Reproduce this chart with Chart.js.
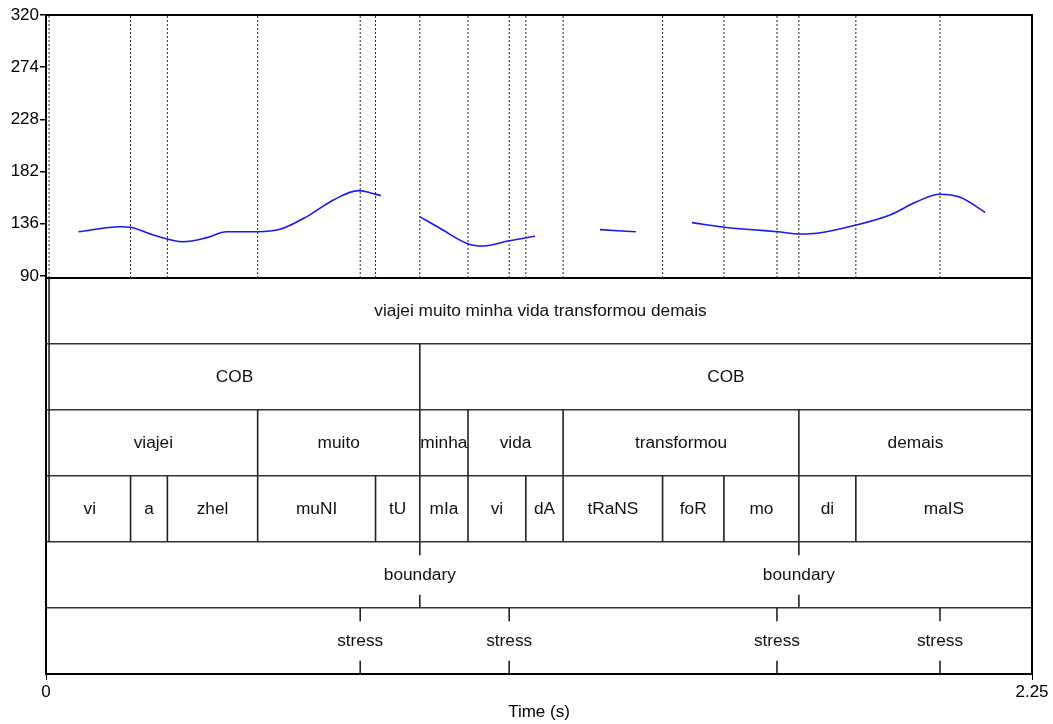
<!DOCTYPE html>
<html>
<head>
<meta charset="utf-8">
<script src="https://cdn.jsdelivr.net/npm/chart.js@4"></script>
<style>
  body { margin: 0; background: #fff; }
  #wrap { width: 1053px; height: 724px; }
</style>
</head>
<body>
<div id="wrap"><canvas id="pitchChart"></canvas></div>
<script>
// --- data ---
const xMax = 2.25;
const pitchTicks = [90, 136, 182, 228, 274, 320];

// pitch contour (s, Hz); null = unvoiced gap
const pitchTimes = [0.074, 0.169, 0.193, 0.245, 0.313, 0.367, 0.412, 0.482, 0.534, 0.595, 0.656, 0.713, 0.739, 0.764, 0.80,
  0.853, 0.899, 0.964, 0.998, 1.057, 1.116, 1.19,
  1.264, 1.346, 1.40,
  1.474, 1.548, 1.622, 1.669, 1.721, 1.759, 1.848, 1.926, 1.987, 2.040, 2.086, 2.143];
const pitchHz = [129.0, 133.4, 132.9, 126.1, 120.2, 123.8, 129.0, 129.0, 131.1, 142.3, 157.0, 165.2, 163.4, 160.8, null,
  142.3, 132.0, 118.2, 116.4, 121.1, 125.0, null,
  130.8, 129.0, null,
  137.0, 132.9, 130.5, 129.0, 127.0, 127.6, 134.9, 143.8, 155.5, 162.0, 159.3, 146.1];

// interval tiers: boundaries + labels
const sentenceBounds = [0.007, 2.25];
const sentenceLabels = ['viajei muito minha vida transformou demais'];
const unitBounds = [0.007, 0.853, 2.25];
const unitLabels = ['COB', 'COB'];
const wordBounds = [0.007, 0.483, 0.853, 0.963, 1.180, 1.718, 2.25];
const wordLabels = ['viajei', 'muito', 'minha', 'vida', 'transformou', 'demais'];
const syllBounds = [0.007, 0.193, 0.277, 0.483, 0.752, 0.853, 0.963, 1.095, 1.180, 1.407, 1.547, 1.718, 1.848, 2.25];
const syllLabels = ['vi', 'a', 'zhel', 'muNI', 'tU', 'mIa', 'vi', 'dA', 'tRaNS', 'foR', 'mo', 'di', 'maIS'];

// point tiers
const boundaryPoints = [0.853, 1.718];
const stressPoints = [0.717, 1.057, 1.668, 2.040];

const intervalTiers = [
  { bounds: sentenceBounds, labels: sentenceLabels },
  { bounds: unitBounds, labels: unitLabels },
  { bounds: wordBounds, labels: wordLabels },
  { bounds: syllBounds, labels: syllLabels }
];
const pointTiers = [
  { points: boundaryPoints, label: 'boundary' },
  { points: stressPoints, label: 'stress' }
];

const FONT = "'Liberation Sans', Arial, sans-serif";

// --- build datasets ---
const datasets = [];

datasets.push({
  label: 'F0',
  data: pitchTimes.map((t, i) => ({ x: t, y: pitchHz[i] })),
  yAxisID: 'y',
  borderColor: 'rgb(25,25,235)',
  borderWidth: 1.6,
  pointRadius: 0,
  cubicInterpolationMode: 'monotone',
  spanGaps: false
});

// dotted boundary lines in the pitch panel
const allTimes = new Set();
intervalTiers.forEach(tr => tr.bounds.forEach(b => { if (b < xMax) allTimes.add(b); }));
pointTiers.forEach(tr => tr.points.forEach(p => allTimes.add(p)));
const dotted = [];
[...allTimes].sort((a, b) => a - b).forEach(t => {
  dotted.push({ x: t, y: 88.2 }, { x: t, y: 320 }, { x: t, y: null });
});
datasets.push({
  label: 'marks',
  data: dotted,
  yAxisID: 'y',
  borderColor: '#222',
  borderWidth: 1,
  borderDash: [2, 2],
  pointRadius: 0,
  spanGaps: false
});

// interval tier boundaries
intervalTiers.forEach((tr, row) => {
  const d = [];
  tr.bounds.forEach(b => { d.push({ x: b, y: row }, { x: b, y: row + 1 }, { x: b, y: null }); });
  datasets.push({ label: 'tier' + row, data: d, yAxisID: 'yt', borderColor: '#222', borderWidth: 1.6, pointRadius: 0, spanGaps: false });
});

// point tier tick marks
pointTiers.forEach((tr, k) => {
  const row = 4 + k;
  const d = [];
  tr.points.forEach(p => {
    d.push({ x: p, y: row }, { x: p, y: row + 0.2 }, { x: p, y: null });
    d.push({ x: p, y: row + 0.8 }, { x: p, y: row + 1 }, { x: p, y: null });
  });
  datasets.push({ label: 'points' + k, data: d, yAxisID: 'yt', borderColor: '#222', borderWidth: 1.6, pointRadius: 0, spanGaps: false });
});

// labels inside tiers + outer frame
const tierText = {
  id: 'tierText',
  afterDatasetsDraw(chart) {
    const { ctx, scales: { x, yt } } = chart;
    ctx.save();
    ctx.fillStyle = '#111';
    ctx.font = '17.3px ' + FONT;
    ctx.textAlign = 'center';
    ctx.textBaseline = 'middle';
    intervalTiers.forEach((tr, row) => {
      const yc = yt.getPixelForValue(row + 0.5);
      tr.labels.forEach((lab, i) => {
        const xc = (x.getPixelForValue(tr.bounds[i]) + x.getPixelForValue(tr.bounds[i + 1])) / 2;
        ctx.fillText(lab, xc, yc);
      });
    });
    pointTiers.forEach((tr, k) => {
      const yc = yt.getPixelForValue(4 + k + 0.5);
      tr.points.forEach(p => ctx.fillText(tr.label, x.getPixelForValue(p), yc));
    });
    ctx.restore();
  },
  afterDraw(chart) {
    const a = chart.chartArea;
    const ctx = chart.ctx;
    ctx.save();
    ctx.strokeStyle = '#000';
    ctx.lineWidth = 2;
    ctx.strokeRect(a.left, a.top, a.right - a.left, a.bottom - a.top);
    ctx.beginPath();
    const y0 = chart.scales.yt.getPixelForValue(0);
    ctx.moveTo(a.left, y0);
    ctx.lineTo(a.right, y0);
    ctx.stroke();
    ctx.restore();
  }
};

let chart;

function initChart() {
  const ctx = document.getElementById('pitchChart').getContext('2d');
  chart = new Chart(ctx, {
    type: 'line',
    data: { datasets },
    options: {
      responsive: true,
      maintainAspectRatio: false,
      animation: false,
      events: [],
      layout: { padding: { top: 15, right: 21, left: 0, bottom: 0 } },
      plugins: {
        legend: { display: false },
        tooltip: { enabled: false }
      },
      scales: {
        x: {
          type: 'linear',
          min: 0,
          max: xMax,
          position: 'bottom',
          afterBuildTicks: s => { s.ticks = [{ value: 0 }, { value: xMax }]; },
          ticks: {
            callback: v => (v === 0 ? '0' : v.toFixed(2)),
            maxRotation: 0,
            autoSkip: false,
            color: '#000',
            padding: 2,
            font: { family: FONT, size: 17 }
          },
          grid: { drawOnChartArea: false, drawTicks: true, tickLength: 6, color: '#000', lineWidth: 1 },
          border: { color: '#000', width: 2 },
          title: { display: true, text: 'Time (s)', color: '#000', font: { family: FONT, size: 17 }, padding: { top: 3, bottom: 1 } },
          afterFit: s => { s.height = 50; }
        },
        // tiers first so they sit under the pitch panel in the stack
        yt: {
          type: 'linear',
          min: 0,
          max: 6,
          reverse: true,
          position: 'left',
          stack: 'v',
          stackWeight: 396,
          ticks: { display: false, stepSize: 1 },
          grid: { drawTicks: false, color: '#333', lineWidth: 1.5 },
          border: { color: '#000', width: 2 },
          afterFit: s => { s.width = 46; }
        },
        y: {
          type: 'linear',
          min: 88.2,
          max: 320,
          position: 'left',
          stack: 'v',
          stackWeight: 263,
          afterBuildTicks: s => { s.ticks = pitchTicks.map(v => ({ value: v })); },
          ticks: { color: '#000', padding: 1, font: { family: FONT, size: 17 } },
          grid: { drawOnChartArea: false, drawTicks: true, tickLength: 6, color: '#000', lineWidth: 1.5 },
          border: { color: '#000', width: 2 },
          afterFit: s => { s.width = 46; }
        }
      }
    },
    plugins: [tierText]
  });
}

document.addEventListener('DOMContentLoaded', () => {
  initChart();
});
</script>
</body>
</html>
